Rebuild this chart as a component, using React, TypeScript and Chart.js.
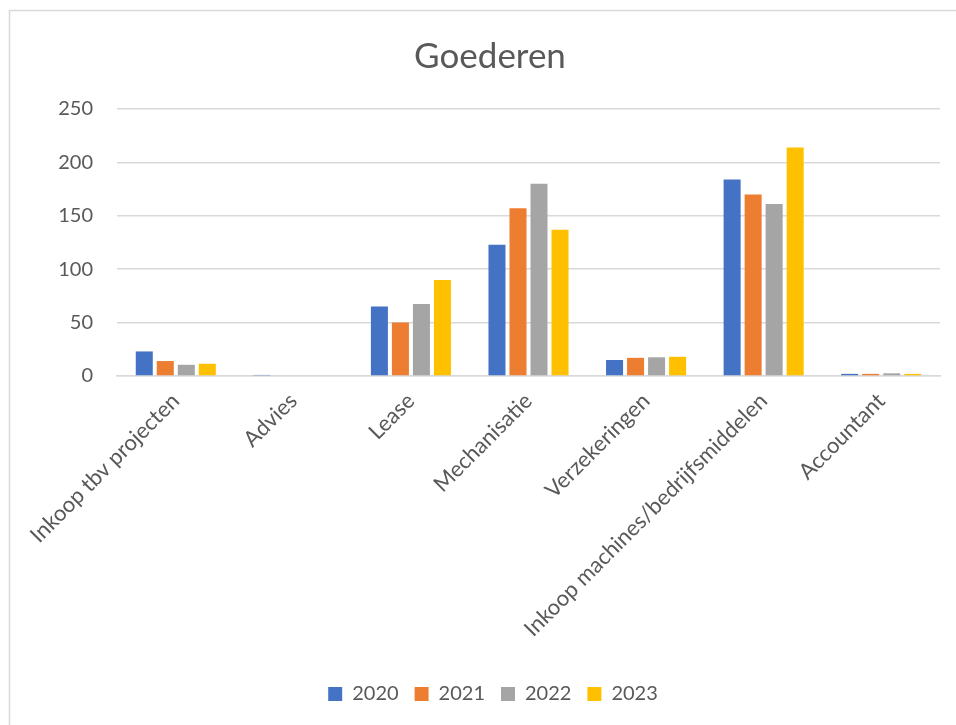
import React, { useEffect, useRef } from "react";
import { Chart, registerables } from "chart.js";

Chart.register(...registerables);

const categories = [
  "Inkoop tbv projecten",
  "Advies",
  "Lease",
  "Mechanisatie",
  "Verzekeringen",
  "Inkoop machines/bedrijfsmiddelen",
  "Accountant",
];
const seriesNames = ["2020", "2021", "2022", "2023"];
const values2020 = [23, 1, 65, 123, 15, 184, 2];
const values2021 = [14, 0, 50, 157, 17, 170, 2];
const values2022 = [10.5, 0, 67.5, 180, 17.5, 161, 2.5];
const values2023 = [11.5, 0, 90, 137, 18, 214, 2];
const seriesColors = ["#4472C4", "#ED7D31", "#A5A5A5", "#FFC000"];
const yTicks = [0, 50, 100, 150, 200, 250];

const FONT = "Lato, 'Open Sans', sans-serif";
const TEXT = "#595959";

const framePlugin = {
  id: "frame",
  beforeDraw(chart: any) {
    const ctx = chart.ctx;
    ctx.save();
    ctx.fillStyle = "#ffffff";
    ctx.fillRect(0, 0, chart.width, chart.height);
    ctx.strokeStyle = "#d9d9d9";
    ctx.lineWidth = 1.5;
    ctx.beginPath();
    ctx.moveTo(9.5, chart.height);
    ctx.lineTo(9.5, 10.5);
    ctx.lineTo(chart.width, 10.5);
    ctx.stroke();
    ctx.restore();
  },
};

const shiftPlugin = {
  id: "shiftBoxes",
  afterLayout(chart: any) {
    const t = chart.titleBlock;
    if (t) {
      t.left += 20;
      t.right += 20;
    }
    const l = chart.legend;
    if (l) {
      l.left += 23;
      l.right += 23;
    }
  },
};

export default function App() {
  const ref = useRef<HTMLCanvasElement | null>(null);

  useEffect(() => {
    if (!ref.current) return;
    const all = [values2020, values2021, values2022, values2023];
    const chart = new Chart(ref.current, {
      type: "bar",
      data: {
        labels: categories,
        datasets: seriesNames.map((name, i) => ({
          label: name,
          data: all[i],
          backgroundColor: seriesColors[i],
          borderWidth: 0,
          categoryPercentage: 0.715,
          barPercentage: 0.81,
        })),
      },
      options: {
        responsive: false,
        animation: false,
        devicePixelRatio: 1,
        layout: { padding: { left: 0, right: 16, top: 0, bottom: 11 } },
        plugins: {
          title: {
            display: true,
            text: "Goederen",
            color: TEXT,
            font: { family: FONT, size: 35, weight: "normal" },
            padding: { top: 36, bottom: 31 },
          },
          legend: {
            position: "bottom",
            labels: {
              color: TEXT,
              font: { family: FONT, size: 20 },
              boxWidth: 14,
              boxHeight: 14,
              padding: 16,
            },
          },
          tooltip: { enabled: false },
        },
        scales: {
          x: {
            grid: { display: false },
            border: { display: true, color: "#d9d9d9", width: 1.5 },
            ticks: {
              color: TEXT,
              font: { family: FONT, size: 22 },
              minRotation: 45,
              maxRotation: 45,
              autoSkip: false,
              padding: 4,
            },
            afterFit(scale: any) {
              scale.height = 292;
            },
          },
          y: {
            min: 0,
            max: 250,
            afterBuildTicks(scale: any) {
              scale.ticks = yTicks.map((v) => ({ value: v }));
            },
            grid: { color: "#d9d9d9", lineWidth: 1.5, drawTicks: false },
            border: { display: false },
            ticks: {
              color: TEXT,
              font: { family: FONT, size: 20 },
              padding: 24,
            },
            afterFit(scale: any) {
              scale.width = 117;
            },
          },
        },
      },
      plugins: [framePlugin, shiftPlugin],
    });
    return () => chart.destroy();
  }, []);

  return (
    <div style={{ position: "absolute", left: 0, top: 0, width: 956, height: 725 }}>
      <canvas ref={ref} width={956} height={725} />
    </div>
  );
}
